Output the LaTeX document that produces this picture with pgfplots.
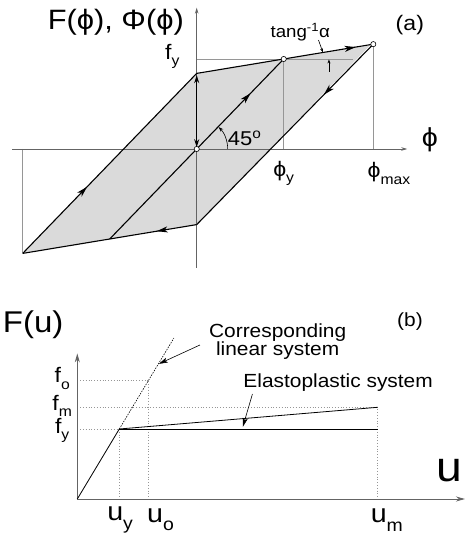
\documentclass[border=0pt]{standalone}
\usepackage{pgfplots}
\pgfplotsset{compat=1.18}
\usepackage{fontspec}
\setmainfont[FakeStretch=1.1]{Liberation Sans}
\usetikzlibrary{arrows.meta,decorations.markings}

\definecolor{loopfill}{RGB}{218,218,218}
\definecolor{refgray}{RGB}{150,150,150}
\definecolor{axgray}{RGB}{100,100,100}

\newcommand\sub[1]{\raisebox{-0.32em}{\scalebox{0.68}{#1}}}
\newcommand\fs[1]{\fontsize{#1}{#1}\selectfont}

\tikzset{
  midarrow/.style={postaction={decorate},
    decoration={markings, mark=at position #1 with {\arrow{Stealth[length=11pt,width=6pt,inset=3pt]}}}},
  loopline/.style={black, line width=1.1pt},
}

\begin{document}
\begin{tikzpicture}
\useasboundingbox (0pt,0pt) rectangle (466pt,535pt);

% ---------------- (a) hysteresis loop ----------------
\begin{axis}[at={(196.7pt,386pt)}, anchor=origin, x=87pt, y=90pt,
  hide axis, clip=false, xmin=-2.3, xmax=2.6, ymin=-1.4, ymax=1.7]
  % shaded loop area
  \addplot[fill=loopfill, draw=none] coordinates {(-2,-1.16) (0,0.84) (2,1.16) (0,-0.84)} -- cycle;
  % reference lines
  \addplot[refgray, line width=0.6pt] coordinates {(0,1) (1.8,1)};
  \addplot[refgray, line width=0.6pt] coordinates {(1,1) (1,0)};
  \addplot[refgray, line width=0.6pt] coordinates {(2.03,1.165) (2.03,0)};
  \addplot[refgray, line width=0.6pt] coordinates {(-2,0) (-2,-1.16)};
  % axes
  \addplot[axgray, line width=0.7pt, -{Stealth[length=6pt,width=3.5pt]}] coordinates {(-2.12,0) (2.42,0)};
  \addplot[axgray, line width=0.7pt, -{Stealth[length=6pt,width=3.5pt]}] coordinates {(0,-1.32) (0,1.57)};
  % loop branches
  \addplot[loopline, midarrow=0.9] coordinates {(0,0.84) (1,1) (2.03,1.165)};
  \addplot[loopline, midarrow=0.28] coordinates {(2.03,1.165) (0,-0.84)};
  \addplot[loopline, midarrow=0.23] coordinates {(0,-0.84) (-2,-1.16)};
  \addplot[loopline, midarrow=0.37] coordinates {(-2,-1.16) (0,0.84)};
  \addplot[loopline, midarrow=0.81] coordinates {(-1,-1) (1,1)};
  % elastic stroke at phi = 0
  \addplot[black, line width=1.1pt, {Stealth[length=8pt,width=5pt]}-{Stealth[length=8pt,width=5pt]}] coordinates {(0,0.02) (0,0.82)};
  % angle of the elastic branch
  \draw[black, line width=0.6pt, -{Stealth[length=5pt,width=3.5pt]}] (axis cs:0,0) ++(0:31pt) arc[start angle=0, end angle=45, radius=31pt];
  % post-yield slope marker
  \addplot[black, line width=0.6pt, -{Stealth[length=4pt,width=3pt]}] coordinates {(1.40,1.21) (1.45,1.075)};
  \addplot[black, line width=0.6pt, -{Stealth[length=4pt,width=3pt]}] coordinates {(1.52,0.86) (1.52,0.995)};
  % characteristic points
  \addplot[only marks, mark=*, mark size=2.6pt, mark options={fill=white, draw=black, line width=0.6pt}]
    coordinates {(0,0) (1,1) (2.03,1.165)};
  % labels
  \node at (axis cs:-0.93,1.41) {\fs{28}F(ϕ), Φ(ϕ)};
  \node at (axis cs:-0.28,1.03) {\fs{21}f\sub{y}};
  \node at (axis cs:2.68,0.1) {\fs{26}ϕ};
  \node at (axis cs:1.0,-0.27) {\fs{21}ϕ\sub{y}};
  \node at (axis cs:2.21,-0.27) {\fs{21}ϕ\sub{max}};
  \node at (axis cs:2.45,1.38) {\fs{21}(a)};
  \node at (axis cs:0.55,0.12) {\fs{20}45\textsuperscript{o}};
  \node at (axis cs:1.19,1.3) {\fs{17}tang\textsuperscript{-1}α};
\end{axis}

% ---------------- (b) force-displacement ----------------
\begin{axis}[at={(77.3pt,36pt)}, anchor=origin, x=42pt, y=70pt,
  hide axis, clip=false, xmin=0, xmax=9.3, ymin=0, ymax=2.3]
  % dotted guide lines
  \addplot[refgray, line width=0.8pt, dotted] coordinates {(0,1.7) (1.7,1.7) (1.7,0)};
  \addplot[refgray, line width=0.8pt, dotted] coordinates {(0,1.31) (7.15,1.31) (7.15,0)};
  \addplot[refgray, line width=0.8pt, dotted] coordinates {(0,1) (1,1) (1,0)};
  % axes
  \addplot[axgray, line width=0.9pt, -{Stealth[length=9pt,width=5pt]}] coordinates {(0,0) (9.23,0)};
  \addplot[axgray, line width=0.9pt, -{Stealth[length=9pt,width=5pt]}] coordinates {(0,0) (0,2.08)};
  % corresponding linear system
  \addplot[black, line width=0.6pt, dash pattern=on 1.5pt off 1.2pt] coordinates {(1,1) (2.3,2.3)};
  % elastoplastic system
  \addplot[black, line width=0.8pt] coordinates {(0,0) (1,1) (7.15,1.31)};
  \addplot[black, line width=0.6pt] coordinates {(1,1) (7.15,1)};
  % pointers
  \addplot[black, line width=0.6pt, -{Stealth[length=9pt,width=5pt,inset=2pt]}] coordinates {(2.92,2.2) (1.94,1.93)};
  \addplot[black, line width=0.6pt, -{Stealth[length=9pt,width=5pt,inset=2pt]}] coordinates {(4.17,1.5) (3.94,1.03)};
  % labels
  \node at (axis cs:-1.05,2.49) {\fs{30}F(u)};
  \node at (axis cs:7.92,2.53) {\fs{19}(b)};
  \node[align=center] at (axis cs:4.77,2.25) {\fs{19}Corresponding\\[-1pt]\fs{19}linear system};
  \node at (axis cs:6.21,1.66) {\fs{19}Elastoplastic system};
  \node at (axis cs:8.87,0.4) {\fs{42}u};
  \node at (axis cs:1.02,-0.3) {\fs{26}u\sub{y}};
  \node at (axis cs:1.98,-0.3) {\fs{26}u\sub{o}};
  \node at (axis cs:7.37,-0.3) {\fs{26}u\sub{m}};
  \node at (axis cs:-0.36,1.72) {\fs{21}f\sub{o}};
  \node at (axis cs:-0.36,1.33) {\fs{21}f\sub{m}};
  \node at (axis cs:-0.36,0.98) {\fs{21}f\sub{y}};
\end{axis}
\end{tikzpicture}
\end{document}
